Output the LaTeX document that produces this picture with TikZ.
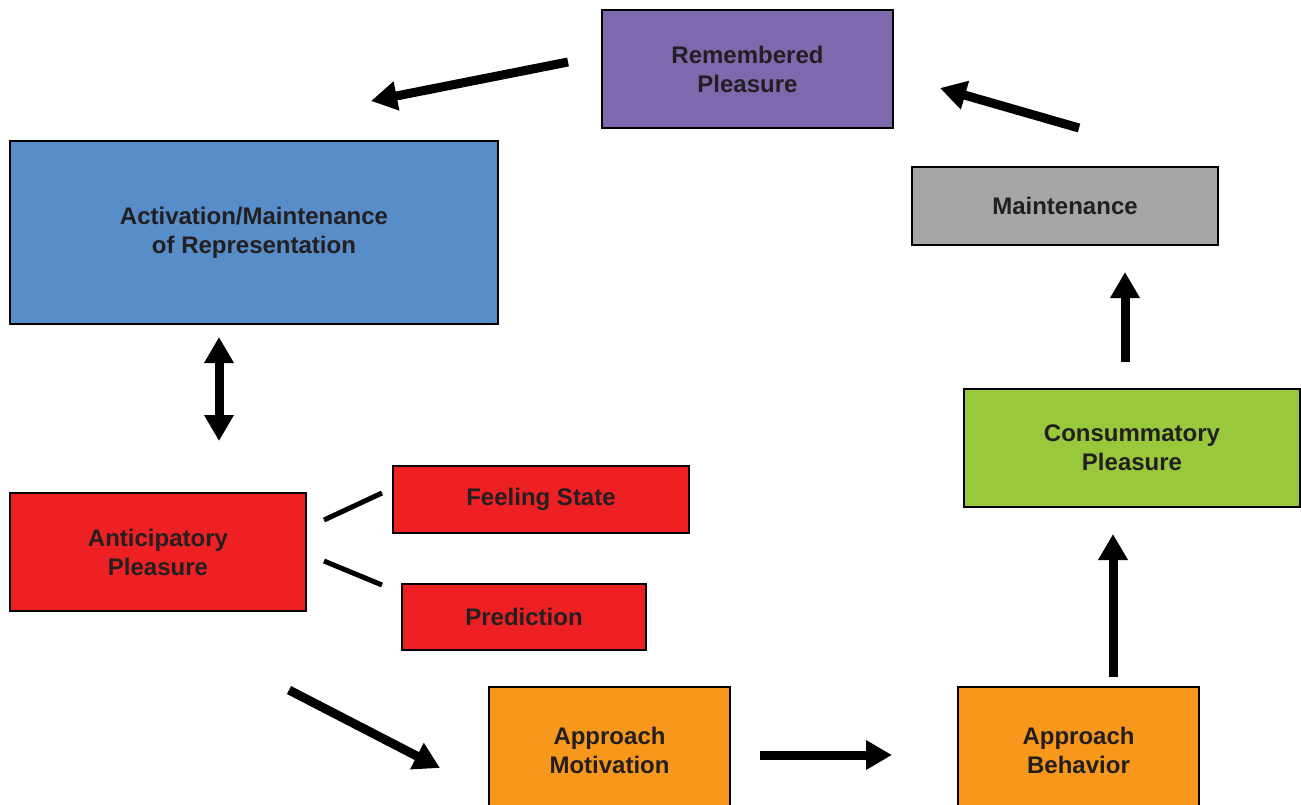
\documentclass[tikz,border=0pt]{standalone}
\usepackage{fontspec}
\setmainfont{Liberation Sans}
\usetikzlibrary{arrows.meta}

\definecolor{rpurple}{HTML}{7E68AE}
\definecolor{rblue}{HTML}{578DC9}
\definecolor{rgray}{HTML}{A6A6A6}
\definecolor{rgreen}{HTML}{99C83C}
\definecolor{rred}{HTML}{EE2024}
\definecolor{rorange}{HTML}{F7981D}
\definecolor{rtext}{HTML}{231F20}

\begin{document}
\begin{tikzpicture}[x=1pt,y=-1pt]
\tikzset{box/.style={draw=black,line width=1.6pt,inner sep=0pt,align=center,text=rtext,font=\fontsize{24}{29}\selectfont\bfseries}}
\tikzset{bigarrow/.style={line width=9pt,-{Triangle[width=28pt,length=26pt]}}}
\tikzset{twoarrow/.style={line width=9pt,{Triangle[width=28pt,length=26pt]}-{Triangle[width=28pt,length=26pt]}}}
\tikzset{link/.style={line width=5pt}}

\useasboundingbox (0,0) rectangle (1301,804);

\node[box,fill=rpurple,minimum width=291,minimum height=118] (remembered) at (747.5,69) {Remembered\\Pleasure};
\node[box,fill=rblue,minimum width=488,minimum height=183] (activation) at (254,232.5) {Activation/Maintenance\\of Representation};
\node[box,fill=rgray,minimum width=306,minimum height=78] (maintenance) at (1065,206) {Maintenance};
\node[box,fill=rgreen,minimum width=336,minimum height=118] (consummatory) at (1132,448) {Consummatory\\Pleasure};
\node[box,fill=rred,minimum width=296,minimum height=118] (anticipatory) at (158,552) {Anticipatory\\Pleasure};
\node[box,fill=rred,minimum width=296,minimum height=67] (feeling) at (541,499.5) {Feeling State};
\node[box,fill=rred,minimum width=244,minimum height=66] (prediction) at (524,617) {Prediction};
\node[box,fill=rorange,minimum width=241,minimum height=126] (motivation) at (609.5,750) {Approach\\Motivation};
\node[box,fill=rorange,minimum width=241,minimum height=126] (behavior) at (1078.5,750) {Approach\\Behavior};

% arrow ends
\coordinate (remA) at (568,62);
\coordinate (actA) at (371,101);
\coordinate (mainA) at (1079,128);
\coordinate (remB) at (940,88);
\coordinate (conA) at (1125,362);
\coordinate (mainB) at (1125,272);
\coordinate (behA) at (1113,677);
\coordinate (conB) at (1113,534);
\coordinate (motA) at (760,755);
\coordinate (behB) at (892,755);
\coordinate (antA) at (289,690);
\coordinate (motB) at (440,768);
\coordinate (actB) at (219,337);
\coordinate (antB) at (219,441);
\coordinate (feelA) at (324,520);
\coordinate (feelB) at (382,493);
\coordinate (predA) at (324,561);
\coordinate (predB) at (382,585);

\draw[bigarrow] (remA) -- (actA);
\draw[bigarrow] (mainA) -- (remB);
\draw[bigarrow] (conA) -- (mainB);
\draw[bigarrow] (behA) -- (conB);
\draw[bigarrow] (motA) -- (behB);
\draw[bigarrow] (antA) -- (motB);
\draw[twoarrow] (actB) -- (antB);
\draw[link] (feelA) -- (feelB);
\draw[link] (predA) -- (predB);

\end{tikzpicture}
\end{document}
